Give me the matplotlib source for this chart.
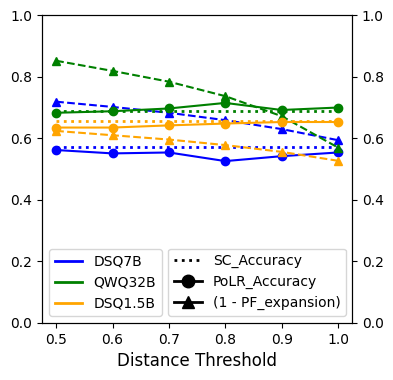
import matplotlib
matplotlib.use("Agg")
import matplotlib.pyplot as plt
from matplotlib.lines import Line2D

thresholds = [0.5, 0.6, 0.7, 0.8, 0.9, 1.0]
models = ["DSQ7B", "QWQ32B", "DSQ1.5B"]
colors = ["blue", "green", "orange"]

polr = {
    "DSQ7B": [0.562, 0.551, 0.554, 0.526, 0.542, 0.554],
    "QWQ32B": [0.683, 0.688, 0.697, 0.715, 0.692, 0.700],
    "DSQ1.5B": [0.635, 0.635, 0.642, 0.648, 0.653, 0.653],
}
sc = {"DSQ7B": 0.572, "QWQ32B": 0.689, "DSQ1.5B": 0.657}
pf = {
    "DSQ7B": [0.719, 0.702, 0.683, 0.659, 0.630, 0.594],
    "QWQ32B": [0.852, 0.819, 0.784, 0.737, 0.672, 0.570],
    "DSQ1.5B": [0.624, 0.610, 0.596, 0.578, 0.556, 0.527],
}

fig = plt.figure(figsize=(3.93, 3.8), dpi=100)
ax = fig.add_axes([0.107, 0.15, 0.789, 0.81])

for m, c in zip(models, colors):
    ax.plot(thresholds, [sc[m]] * len(thresholds), linestyle=":", color=c, lw=2)
    ax.plot(thresholds, polr[m], linestyle="-", marker="o", color=c, lw=1.5, ms=6)
    ax.plot(thresholds, pf[m], linestyle="--", marker="^", color=c, lw=1.5, ms=6)

ax.set_ylim(0, 1)
ax.set_xticks(thresholds)
ax.set_xlabel("Distance Threshold", fontsize=12)
ax2 = ax.twinx()
ax2.set_ylim(0, 1)

h1 = [Line2D([0], [0], color=c, lw=2) for c in colors]
leg1 = ax.legend(h1, models, loc="lower left", fontsize=10)
ax.add_artist(leg1)
h2 = [Line2D([0], [0], color="black", linestyle=":", lw=2),
      Line2D([0], [0], color="black", linestyle="-", marker="o", lw=2, ms=9),
      Line2D([0], [0], color="black", linestyle="-", marker="^", lw=2, ms=9)]
ax.legend(h2, ["SC_Accuracy", "PoLR_Accuracy", "(1 - PF_expansion)"],
          loc="lower left", bbox_to_anchor=(0.385, 0.0), fontsize=10)

fig.savefig("out.png", dpi=100)
